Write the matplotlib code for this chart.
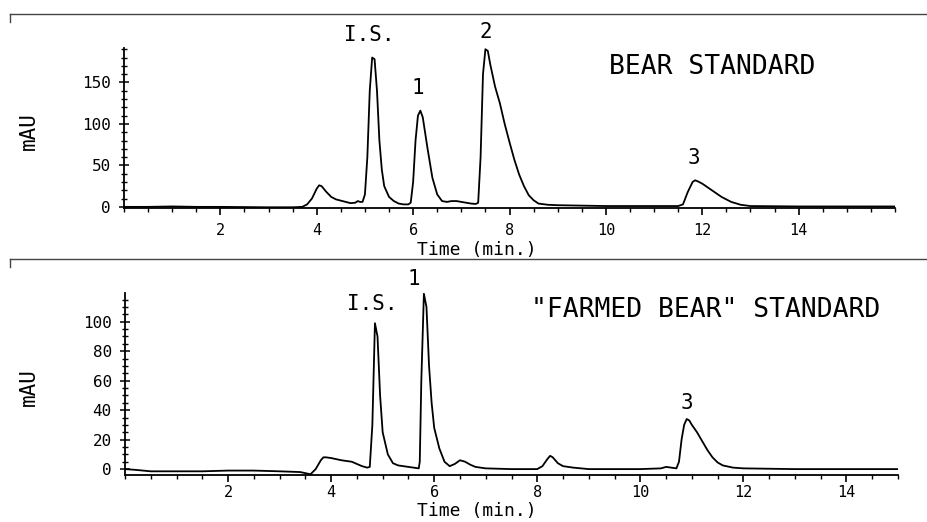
import matplotlib
matplotlib.use("Agg")
import matplotlib.pyplot as plt
from matplotlib.ticker import MultipleLocator
from matplotlib.lines import Line2D

# ---------------- data ----------------
# Panel A: BEAR STANDARD  (time in min, signal in mAU)
time_a = [0.0, 0.5, 1.0, 1.5, 2.0, 3.0, 3.5, 3.7, 3.8, 3.9, 4.0, 4.05, 4.1, 4.2, 4.3,
          4.4, 4.5, 4.6, 4.7, 4.8, 4.85, 4.9, 4.95, 5.0, 5.05, 5.1, 5.15, 5.2, 5.25,
          5.3, 5.35, 5.4, 5.5, 5.6, 5.7, 5.8, 5.9, 5.95, 6.0, 6.05, 6.1, 6.15, 6.2,
          6.3, 6.4, 6.5, 6.6, 6.7, 6.8, 6.9, 7.0, 7.1, 7.2, 7.3, 7.35, 7.4, 7.45,
          7.5, 7.55, 7.6, 7.7, 7.8, 7.9, 8.0, 8.1, 8.2, 8.3, 8.4, 8.5, 8.6, 8.8, 9.0,
          10.0, 11.0, 11.5, 11.6, 11.7, 11.8, 11.85, 11.9, 12.0, 12.2, 12.4, 12.6,
          12.8, 13.0, 14.0, 15.0, 16.0]
signal_a = [0.0, 0.0, 0.5, 0.0, 0.0, -0.5, -0.5, 0.0, 3.0, 10.0, 22.0, 26.0, 25.0, 18.0, 12.0,
            9.0, 7.5, 6.0, 4.5, 5.0, 7.0, 6.0, 6.0, 15.0, 60.0, 140.0, 180.0, 178.0, 140.0,
            80.0, 45.0, 25.0, 12.0, 7.0, 4.0, 3.0, 3.0, 5.0, 30.0, 80.0, 110.0, 116.0, 108.0,
            70.0, 35.0, 15.0, 7.0, 6.0, 7.0, 7.0, 6.0, 5.0, 4.0, 3.5, 5.0, 60.0, 160.0,
            190.0, 188.0, 172.0, 145.0, 125.0, 100.0, 78.0, 57.0, 39.0, 25.0, 14.0, 8.0, 4.0, 2.5, 2.0,
            1.0, 1.0, 1.0, 3.0, 18.0, 30.0, 32.0, 31.0, 28.0, 20.0, 12.0, 6.0,
            2.5, 1.0, 0.5, 0.5, 0.5]

# Panel B: "FARMED BEAR" STANDARD
time_b = [0.0, 0.2, 0.5, 1.0, 1.5, 2.0, 2.5, 3.0, 3.4, 3.6, 3.7, 3.8, 3.85, 3.9, 4.0,
          4.2, 4.4, 4.5, 4.6, 4.7, 4.75, 4.8, 4.85, 4.9, 4.95, 5.0, 5.1, 5.2, 5.3,
          5.5, 5.6, 5.7, 5.72, 5.75, 5.8, 5.85, 5.9, 5.95, 6.0, 6.1, 6.2, 6.3, 6.4,
          6.5, 6.6, 6.7, 6.8, 7.0, 7.5, 8.0, 8.1, 8.2, 8.25, 8.3, 8.4, 8.5, 8.7,
          9.0, 9.5, 10.0, 10.4, 10.5, 10.6, 10.7, 10.75, 10.8, 10.85, 10.9, 10.95,
          11.0, 11.1, 11.2, 11.3, 11.4, 11.5, 11.6, 11.8, 12.0, 13.0, 14.0, 15.0]
signal_b = [0.0, -0.5, -1.5, -1.5, -1.5, -1.0, -1.0, -1.5, -2.0, -3.5, 0.0, 6.0, 8.0, 8.0, 7.5,
            6.0, 5.0, 3.5, 2.0, 1.0, 1.5, 30.0, 99.0, 90.0, 50.0, 25.0, 10.0, 4.0, 2.5,
            1.5, 1.0, 0.5, 5.0, 60.0, 119.0, 110.0, 70.0, 45.0, 28.0, 14.0, 5.0, 2.0, 3.5,
            6.0, 5.0, 3.0, 1.5, 0.5, 0.0, 0.0, 2.0, 7.0, 9.0, 8.0, 4.0, 2.0, 1.0,
            0.0, 0.0, 0.0, 0.5, 1.5, 1.0, 0.5, 5.0, 20.0, 30.0, 34.0, 33.0,
            30.0, 25.0, 19.0, 13.0, 8.0, 4.5, 2.5, 1.0, 0.5, 0.0, 0.0, 0.0]

titles = ["BEAR STANDARD", '"FARMED BEAR" STANDARD']
peak_labels_a = ["I.S.", "1", "2", "3"]
peak_pos_a = [(5.09, 207), (6.09, 143), (7.5, 211), (11.82, 59)]
peak_labels_b = ["I.S.", "1", "3"]
peak_pos_b = [(4.8, 112), (5.6, 129), (10.91, 45)]
xticks_a = [2, 4, 6, 8, 10, 12, 14]
yticks_a = [0, 50, 100, 150]
xticks_b = [2, 4, 6, 8, 10, 12, 14]
yticks_b = [0, 20, 40, 60, 80, 100]

# ---------------- figure ----------------
W, H = 927, 522
fig = plt.figure(figsize=(W / 100, H / 100), dpi=100)
FONT = "DejaVu Sans Mono"


def frac(x0, y0, x1, y1):
    return [x0 / W, 1 - y1 / H, (x1 - x0) / W, (y1 - y0) / H]


ax_a = fig.add_axes(frac(124, 48, 895, 207.7))
ax_b = fig.add_axes(frac(125, 293, 898, 475))


def style(ax, xlim, ylim, xt, yt, yminor, xpad):
    ax.set_xlim(*xlim)
    ax.set_ylim(*ylim)
    for s in ("top", "right"):
        ax.spines[s].set_visible(False)
    for s in ("left", "bottom"):
        ax.spines[s].set_linewidth(1.3)
    ax.set_xticks(xt)
    ax.set_yticks(yt)
    ax.xaxis.set_minor_locator(MultipleLocator(0.5))
    ax.yaxis.set_minor_locator(MultipleLocator(yminor))
    ax.tick_params(axis="x", which="major", direction="out", length=5, width=1.2,
                   pad=xpad, labelsize=11)
    ax.tick_params(axis="x", which="minor", direction="out", length=3, width=1.0)
    ax.tick_params(axis="y", which="major", direction="inout", length=7, width=1.1,
                   pad=6, labelsize=11.5)
    ax.tick_params(axis="y", which="minor", direction="inout", length=4, width=1.0)
    for lab in ax.get_xticklabels() + ax.get_yticklabels():
        lab.set_fontfamily(FONT)


ax_a.plot(time_a, signal_a, color="black", lw=1.3)
style(ax_a, (0, 16), (-1, 191.5), xticks_a, yticks_a, 10, 6)
ax_b.plot(time_b, signal_b, color="black", lw=1.3)
style(ax_b, (0, 15), (-4, 119.5), xticks_b, yticks_b, 5, 2.5)

for lab, (x, y) in zip(peak_labels_a, peak_pos_a):
    ax_a.text(x, y, lab, ha="center", va="center", fontsize=15, family=FONT, clip_on=False)
for lab, (x, y) in zip(peak_labels_b, peak_pos_b):
    ax_b.text(x, y, lab, ha="center", va="center", fontsize=15, family=FONT, clip_on=False)

ax_a.text(12.2, 169, titles[0], ha="center", va="center", fontsize=19, family=FONT)
ax_b.text(11.26, 108, titles[1], ha="center", va="center", fontsize=19, family=FONT,
          clip_on=False)

# axis labels
fig.text(477 / W, 1 - 250 / H, "Time (min.)", ha="center", va="center", fontsize=13, family=FONT)
fig.text(477 / W, 1 - 511 / H, "Time (min.)", ha="center", va="center", fontsize=13, family=FONT)
fig.text(29 / W, 1 - 131 / H, "mAU", ha="center", va="center", rotation=90, fontsize=15, family=FONT)
fig.text(29 / W, 1 - 387 / H, "mAU", ha="center", va="center", rotation=90, fontsize=15, family=FONT)

# page frame lines from the scanned record
for yy in (14, 259):
    fig.add_artist(Line2D([10 / W, 1.0], [1 - yy / H, 1 - yy / H], color="#444444", lw=1.0))
    fig.add_artist(Line2D([10 / W, 10 / W], [1 - yy / H, 1 - (yy + 8) / H], color="#444444", lw=1.0))

fig.savefig("out.png", dpi=100)
